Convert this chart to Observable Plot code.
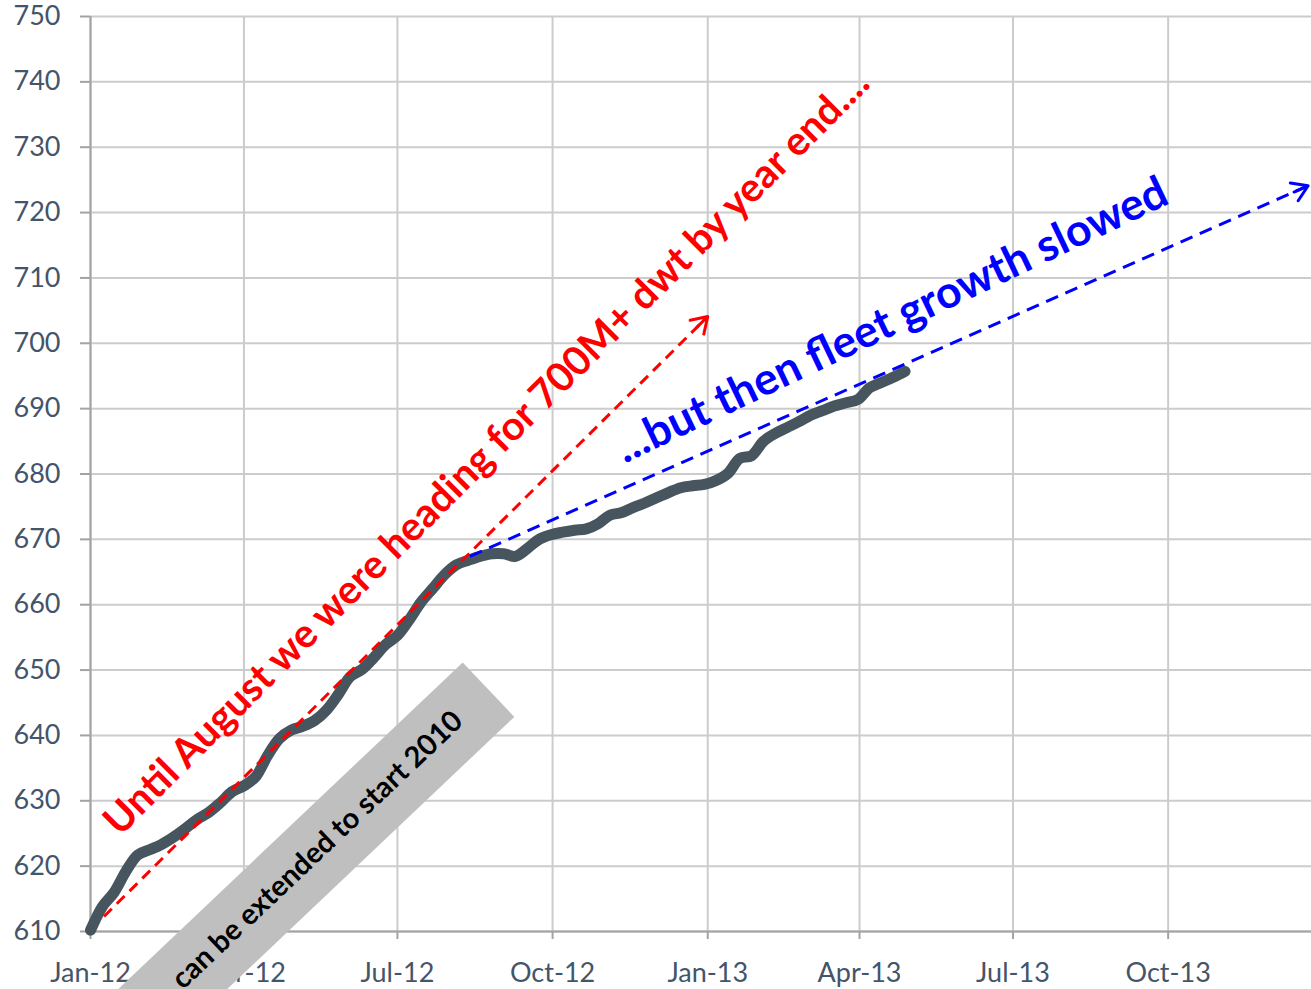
<!DOCTYPE html>
<html><head><meta charset="utf-8">
<script src="https://cdn.jsdelivr.net/npm/d3@7"></script>
<script src="https://cdn.jsdelivr.net/npm/@observablehq/plot@0.6"></script>
<style>html,body{margin:0;padding:0;background:#fff;overflow:hidden}</style>
</head><body><div id="chart"></div>
<script>
// Weekly fleet size (M dwt)
const weekDates = [
  "2012-01-01","2012-01-08","2012-01-15","2012-01-22","2012-01-29","2012-02-05","2012-02-12","2012-02-19","2012-02-26",
  "2012-03-04","2012-03-11","2012-03-18","2012-03-25","2012-04-01","2012-04-08","2012-04-15","2012-04-22","2012-04-29",
  "2012-05-06","2012-05-13","2012-05-20","2012-05-27","2012-06-03","2012-06-10","2012-06-17","2012-06-24",
  "2012-07-01","2012-07-08","2012-07-15","2012-07-22","2012-07-29","2012-08-05","2012-08-12","2012-08-19","2012-08-26",
  "2012-09-02","2012-09-09","2012-09-16","2012-09-23","2012-09-30","2012-10-07","2012-10-14","2012-10-21","2012-10-28",
  "2012-11-04","2012-11-11","2012-11-18","2012-11-25","2012-12-02","2012-12-09","2012-12-16","2012-12-23","2012-12-30",
  "2013-01-06","2013-01-13","2013-01-20","2013-01-27","2013-02-03","2013-02-10","2013-02-17","2013-02-24",
  "2013-03-03","2013-03-10","2013-03-17","2013-03-24","2013-03-31","2013-04-07","2013-04-14","2013-04-21","2013-04-28"
];
const fleetDwt = [
  610.2, 613.8, 616.0, 619.2, 621.7, 622.5, 623.3, 624.4, 625.7, 627.1,
  628.2, 629.7, 631.4, 632.3, 633.7, 636.9, 639.5, 640.8, 641.4, 642.3,
  643.9, 646.3, 649.0, 650.1, 651.9, 653.9, 655.3, 657.7, 660.4, 662.5,
  664.6, 666.1, 666.8, 667.4, 667.8, 667.8, 667.4, 668.6, 670.0, 670.7,
  671.1, 671.4, 671.6, 672.4, 673.7, 674.1, 674.9, 675.6, 676.4, 677.2,
  677.9, 678.2, 678.4, 679.0, 680.1, 682.4, 682.8, 685.0, 686.2, 687.1,
  688.0, 689.0, 689.7, 690.4, 690.9, 691.4, 693.2, 694.0, 694.8, 695.7
];
const yTickValues = [610, 620, 630, 640, 650, 660, 670, 680, 690, 700, 710, 720, 730, 740, 750];
const xTickDates = ["2012-01-01","2012-04-01","2012-07-01","2012-10-01","2013-01-01","2013-04-01","2013-07-01","2013-10-01"];
const xDomain = ["2012-01-01", "2013-12-25"];

// Trend arrows: [red, blue]
const arrowFromDate = ["2012-01-09", "2012-08-13"];
const arrowFromValue = [612.3, 667.4];
const arrowToDate = ["2013-01-01", "2013-12-23"];
const arrowToValue = [704.1, 724.1];

// Annotation texts
const noteTexts = ["Until August we were heading for 700M+ dwt by year end....", "...but then fleet growth slowed"];
const noteDates = ["2012-08-23", "2013-04-20"];
const noteValues = [683.3, 703.5];

// Grey banner
const bannerText = "can be extended to start 2010";
const bannerFromDate = "2012-01-22", bannerFromValue = 594.4;
const bannerToDate = "2012-08-24", bannerToValue = 647.0;
const bannerTextDate = "2012-08-06", bannerTextValue = 642.9;

const parse = d3.utcParse("%Y-%m-%d");
const series = weekDates.map((d, i) => ({date: parse(d), value: fleetDwt[i]}));
const xTicks = xTickDates.map(parse);
const arrows = arrowFromDate.map((d, i) => ({x1: parse(d), y1: arrowFromValue[i], x2: parse(arrowToDate[i]), y2: arrowToValue[i]}));
const notes = noteTexts.map((t, i) => ({text: t, date: parse(noteDates[i]), value: noteValues[i]}));
const banner = [{x1: parse(bannerFromDate), y1: bannerFromValue, x2: parse(bannerToDate), y2: bannerToValue}];
const bannerLabel = [{text: bannerText, date: parse(bannerTextDate), value: bannerTextValue}];

const axisColor = "#a3a3a3", gridColor = "#cccccc", textColor = "#44546a";
const red = "#ff0000", blue = "#0000ff";

const chart = Plot.plot({
  width: 1311, height: 989,
  marginLeft: 90, marginRight: 0, marginTop: 16, marginBottom: 58,
  style: {fontFamily: "Lato, sans-serif", fontSize: "27px", color: textColor, background: "#fff", overflow: "visible"},
  x: {type: "utc", domain: xDomain.map(parse)},
  y: {domain: [610, 750]},
  marks: [
    Plot.gridY(yTickValues, {stroke: gridColor, strokeOpacity: 1, strokeWidth: 2}),
    Plot.gridX(xTicks, {stroke: gridColor, strokeOpacity: 1, strokeWidth: 2}),
    Plot.ruleX([parse(xDomain[0])], {stroke: axisColor, strokeWidth: 2}),
    Plot.ruleY([610], {stroke: axisColor, strokeWidth: 2}),
    Plot.axisY(yTickValues, {tickSize: 10, tickPadding: 20, stroke: axisColor, strokeWidth: 2, fill: textColor, fontSize: 27, label: null}),
    Plot.axisX(xTicks, {tickSize: 8, tickPadding: 23, stroke: axisColor, strokeWidth: 2, fill: textColor, fontSize: 27, tickFormat: d3.utcFormat("%b-%y"), label: null}),
    Plot.line(series, {x: "date", y: "value", stroke: "#47555e", strokeWidth: 11, curve: "catmull-rom"}),
    // red trend
    Plot.link([arrows[0]], {x1: "x1", y1: "y1", x2: "x2", y2: "y2", stroke: red, strokeWidth: 3, strokeDasharray: "11,7"}),
    Plot.arrow([arrows[0]], {x1: "x1", y1: "y1", x2: "x2", y2: "y2", stroke: red, strokeWidth: 3, headLength: 9, headAngle: 65, insetStart: 836}),
    // blue trend
    Plot.link([arrows[1]], {x1: "x1", y1: "y1", x2: "x2", y2: "y2", stroke: blue, strokeWidth: 3, strokeDasharray: "13,8"}),
    Plot.arrow([arrows[1]], {x1: "x1", y1: "y1", x2: "x2", y2: "y2", stroke: blue, strokeWidth: 3, headLength: 9, headAngle: 65, insetStart: 901}),
    Plot.text([notes[0]], {x: "date", y: "value", text: "text", rotate: -45, fill: red, fontSize: 40, fontWeight: "bold", textAnchor: "middle", lineAnchor: "middle"}),
    Plot.text([notes[1]], {x: "date", y: "value", text: "text", rotate: -25.5, fill: blue, fontSize: 44.5, fontWeight: "bold", textAnchor: "middle", lineAnchor: "middle"}),
    // grey banner
    Plot.link(banner, {x1: "x1", y1: "y1", x2: "x2", y2: "y2", stroke: "#bfbfbf", strokeWidth: 75, strokeLinecap: "butt"}),
    Plot.text(bannerLabel, {x: "date", y: "value", text: "text", rotate: -43.5, fill: "#000", fontSize: 29, fontWeight: "bold", textAnchor: "end", lineAnchor: "middle"})
  ]
});
document.getElementById("chart").appendChild(chart);
</script>
</body></html>
